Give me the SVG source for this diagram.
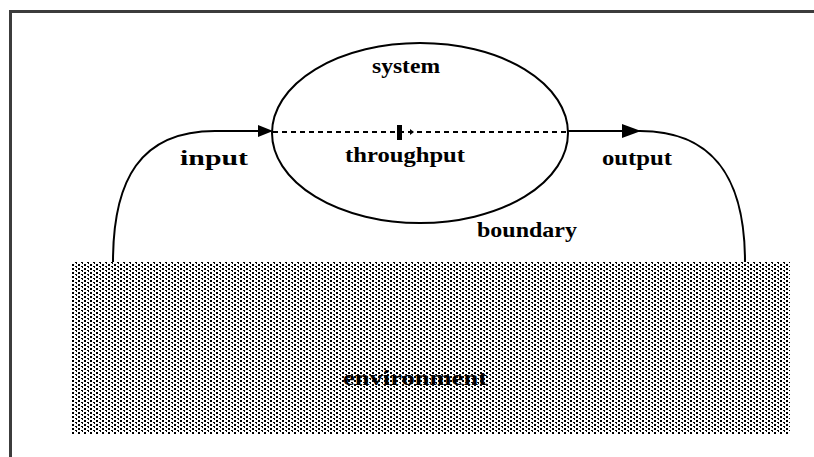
<svg xmlns="http://www.w3.org/2000/svg" width="814" height="457" viewBox="0 0 814 457">
  <style>
    .lbl { font-family: "Liberation Serif", "Times New Roman", serif; font-weight: bold; font-size: 22px; fill: #000; }
    .line { fill: none; stroke: #000; stroke-width: 2; }
    .dash { fill: none; stroke: #000; stroke-width: 2; stroke-dasharray: 5 4; }
  </style>
  <defs>
    <pattern id="stipple" x="0" y="0" width="6" height="4" patternUnits="userSpaceOnUse">
      <rect x="0" y="0" width="2" height="2" fill="#000"/>
      <rect x="3" y="2" width="2" height="1" fill="#000"/>
      <rect x="4" y="3" width="1" height="1" fill="#000"/>
    </pattern>
  </defs>

  <!-- page background and frame -->
  <rect x="0" y="0" width="814" height="457" fill="#fff"/>
  <path d="M10.5,457 V11.5 H814" fill="none" stroke="#3c3c3c" stroke-width="3"/>

  <!-- environment -->
  <g id="environment">
    <rect x="72" y="262" width="718" height="172" fill="url(#stipple)"/>
    <text class="lbl" x="343" y="385" textLength="144" lengthAdjust="spacingAndGlyphs">environment</text>
  </g>

  <!-- system with its boundary -->
  <g id="system">
    <ellipse class="line" cx="420" cy="133" rx="148" ry="90" stroke-width="2.5"/>
    <text class="lbl" x="372" y="73" textLength="68" lengthAdjust="spacingAndGlyphs">system</text>
    <text class="lbl" x="477" y="237" textLength="100" lengthAdjust="spacingAndGlyphs">boundary</text>
  </g>

  <!-- flows -->
  <g id="connectors">
    <!-- input -->
    <path class="line" d="M113,262 C113,180 140,131 215,131 L262,131"/>
    <polygon points="258,125 273,131 258,137" fill="#000"/>
    <!-- throughput -->
    <line class="dash" x1="273" y1="132" x2="567" y2="132"/>
    <rect x="397" y="125" width="5" height="15" fill="#000"/>
    <polygon points="410,129 414,132 410,135" fill="#000"/>
    <!-- output -->
    <path class="line" d="M567,131 L640,131 C715,131 745,180 745,262"/>
    <polygon points="622,124 641,131 622,138" fill="#000"/>
  </g>

  <g id="labels">
    <text class="lbl" x="180" y="165" textLength="68" lengthAdjust="spacingAndGlyphs">input</text>
    <text class="lbl" x="345" y="162" textLength="120" lengthAdjust="spacingAndGlyphs">throughput</text>
    <text class="lbl" x="602" y="165" textLength="70" lengthAdjust="spacingAndGlyphs">output</text>
  </g>
</svg>
